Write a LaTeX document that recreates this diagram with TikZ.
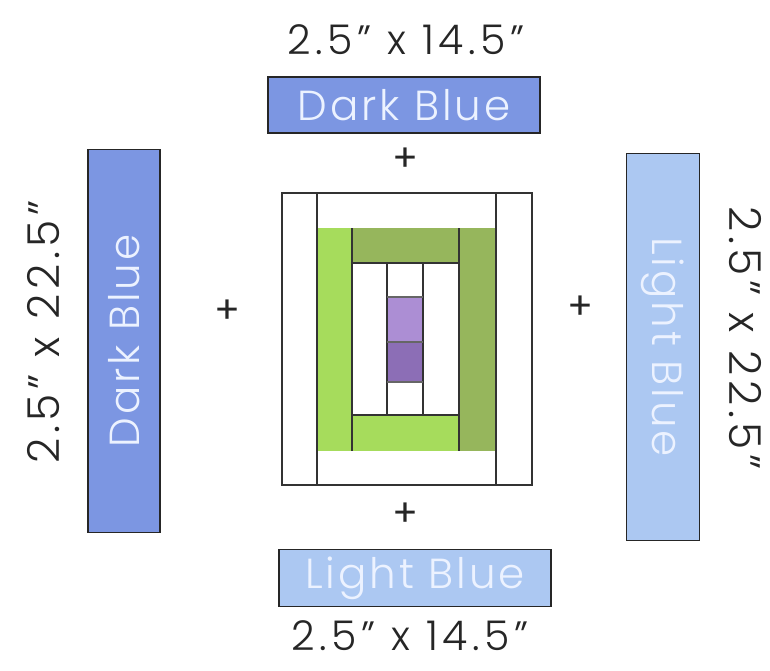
\documentclass[tikz,border=0pt]{standalone}
\usepackage{fontspec}
\setmainfont{Poppins}[UprightFont=* Light, LetterSpace=7]
\newfontfamily\labelfont{Poppins}[UprightFont=* Light, LetterSpace=11]
\newfontfamily\plusfont{Poppins}
\usepackage{tikz}
\usetikzlibrary{positioning}

\definecolor{darkblue}{RGB}{124,150,226}
\definecolor{lightblue}{RGB}{172,200,242}
\definecolor{boxtext}{RGB}{236,242,255}
\definecolor{lightgreen}{RGB}{166,220,92}
\definecolor{darkgreen}{RGB}{150,182,92}
\definecolor{lightpurple}{RGB}{172,142,212}
\definecolor{darkpurple}{RGB}{140,110,182}

\tikzset{
  strip/.style={draw=black!85, line width=1.8pt, text=boxtext, inner sep=0pt,
    font=\fontsize{42}{42}\selectfont},
  sizelabel/.style={font=\labelfont\fontsize{41}{41}\selectfont, text=black!85},
  plus/.style={font=\plusfont\fontsize{38}{38}\selectfont, text=black!85},
  seam/.style={draw=black!80, line width=1.1pt}
}

\begin{document}
\begin{tikzpicture}[x=1pt, y=-1pt]
  \useasboundingbox (0,0) rectangle (770,671);
  % top strip
  \node[strip, fill=darkblue, minimum width=272pt, minimum height=56pt] (topstrip) at (404,105) {Dark Blue};
  \node[sizelabel] (toplabel) at (406,40) {2.5” x 14.5”};
  \node[plus] (topplus) at (405,160) {+};
  % bottom strip
  \node[strip, fill=lightblue, minimum width=272pt, minimum height=57pt] (botstrip) at (415,578) {Light Blue};
  \node[sizelabel] (botlabel) at (410,636) {2.5” x 14.5”};
  \node[plus] (botplus) at (405,515) {+};
  % left strip
  \node[strip, fill=darkblue, rotate=90, minimum width=383pt, minimum height=72pt] (leftstrip) at (124,341) {Dark Blue};
  \node[sizelabel, font=\labelfont\fontsize{44}{44}\selectfont, rotate=90] (leftlabel) at (44,332) {2.5” x 22.5”};
  \node[plus] (leftplus) at (227,312) {+};
  % right strip
  \node[strip, fill=lightblue, rotate=-90, minimum width=387pt, minimum height=73pt] (rightstrip) at (663,347) {Light Blue};
  \node[sizelabel, font=\labelfont\fontsize{44}{44}\selectfont, rotate=-90] (rightlabel) at (745,338) {2.5” x 22.5”};
  \node[plus] (rightplus) at (580,308) {+};

  % center block
  \fill[lightgreen] (317,228) rectangle (352,451);
  \fill[darkgreen] (459,228) rectangle (496,451);
  \fill[darkgreen] (352,228) rectangle (459,263);
  \fill[lightgreen] (352,415) rectangle (459,451);
  \fill[lightpurple] (387,297) rectangle (423,342);
  \fill[darkpurple] (387,342) rectangle (423,382);
  \draw[seam] (282,193) rectangle (532,485);
  \draw[seam] (317,193) -- (317,485);
  \draw[seam] (496,193) -- (496,485);
  \draw[seam] (352,228) -- (352,451);
  \draw[seam] (459,228) -- (459,451);
  \draw[seam] (352,263) -- (459,263);
  \draw[seam] (352,415) -- (459,415);
  \draw[seam] (387,263) -- (387,415);
  \draw[seam] (423,263) -- (423,415);
  \draw[seam, draw=black!60] (387,297) -- (423,297);
  \draw[seam, draw=black!60] (387,342) -- (423,342);
  \draw[seam, draw=black!60] (387,382) -- (423,382);
\end{tikzpicture}
\end{document}
